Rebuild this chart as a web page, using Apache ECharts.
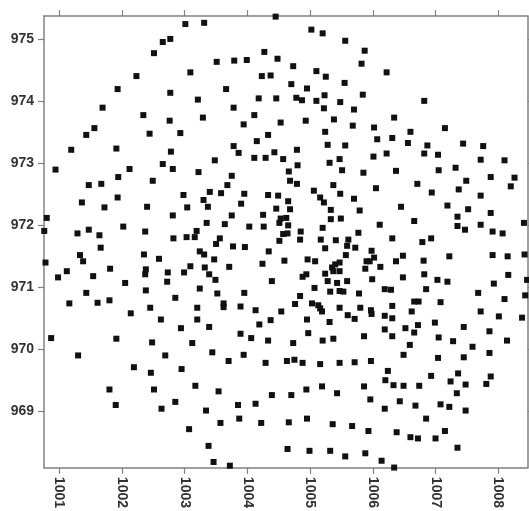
<!DOCTYPE html>
<html>
<head>
<meta charset="utf-8">
<script src="https://cdn.jsdelivr.net/npm/echarts@6/dist/echarts.min.js"></script>
<style>
html,body{margin:0;padding:0;background:#fff;}
#chart{width:529px;height:511px;}
</style>
</head>
<body>
<div id="chart"></div>
<script>
// tick labels
var xTicks = [1001, 1002, 1003, 1004, 1005, 1006, 1007, 1008];
var yTicks = [969, 970, 971, 972, 973, 974, 975];

// point x values (easting)
var xValues = [
1003.01,1002.77,1002.65,1002.51,1003.09,1002.23,1001.93,1002.77,1003.21,1001.69,
1002.34,1002.76,1001.56,1001.43,1002.44,1002.93,1001.19,1001.91,1002.78,1002.65,
1002.81,1000.94,1002.12,1003.22,1001.94,1002.49,1001.47,1001.67,1002.98,1001.36,
1001.93,1003.04,1001.72,1002.40,1000.80,1002.81,1000.76,1001.29,1001.47,1001.64,
1002.02,1002.37,1003.19,1002.82,1003.03,1003.16,
1003.31,1004.45,1005.02,1005.20,1005.56,1004.27,1004.48,1003.51,1003.79,1003.99,
1005.82,1004.73,1005.10,1004.23,1004.37,1005.25,1004.70,1004.95,1005.55,1003.66,
1004.18,1004.46,1004.78,1004.87,1005.10,1005.23,1005.22,1005.48,1005.70,1003.78,
1003.29,1004.11,1003.94,1004.53,1004.93,1005.38,1005.68,1005.24,1004.33,1004.15,
1003.78,1003.86,1005.28,1005.56,1004.79,1004.43,1004.11,1004.29,1004.57,1003.48,
1005.31,1005.47,1005.51,1004.80,1004.66,1003.75,1003.68,1004.68,1004.79,1005.37,
1003.40,1003.58,1003.95,1004.33,1004.49,1005.06,1005.16,1005.22,1005.48,1005.70,
1003.30,1003.37,1003.90,1004.65,1004.46,1004.68,1005.33,1005.79,1003.75,1004.25,
1003.35,1003.64,1004.03,1004.26,1004.53,1004.62,1004.51,1004.65,1005.33,1005.49,
1004.57,1004.64,1004.85,1005.20,1005.77,1003.56,1004.51,1004.84,1005.17,1005.41,
1005.61,
1005.87,1006.22,1005.84,1006.82,1006.34,1006.02,1007.15,1006.60,1006.07,1006.31,
1006.56,1006.87,1007.44,1007.76,1006.01,1006.22,1006.82,1007.04,1007.72,1008.10,
1005.85,1006.37,1007.05,1007.32,1007.49,1007.88,1008.26,1008.20,1006.05,1006.71,
1006.94,1007.37,1007.72,1006.45,1007.19,1007.52,1007.88,1007.35,1006.66,1006.11,
1007.35,1007.47,1007.72,1007.91,1008.07,1008.41,1006.31,1006.79,1006.93,
1001.66,1001.33,1001.38,1000.78,1002.35,1002.59,1003.24,1000.98,1001.12,1001.54,
1001.81,1002.38,1002.37,1002.73,1002.99,1003.09,1002.05,1002.72,1001.43,1002.38,
1003.24,1001.16,1001.61,1001.80,1002.85,1002.14,1002.45,1003.20,1002.62,1003.20,
1002.94,1000.87,1001.91,1002.48,1003.12,1001.30,1002.69,1002.19,1002.46,1002.95,
1001.80,1002.51,1003.17,1001.90,1002.63,1002.85,1003.07,
1003.50,1003.77,1003.96,1005.59,1005.72,1005.24,1003.31,1003.47,1003.71,1004.24,
1004.34,1004.59,1004.96,1005.08,1005.57,1003.32,1003.39,1003.49,1003.52,1003.95,
1004.39,1004.88,1004.94,1005.07,1005.28,1005.24,1005.35,1005.40,1005.47,1005.37,
1005.47,1005.43,1005.59,1005.32,1005.47,1005.53,1005.78,1003.62,1003.62,1003.89,
1004.13,1004.54,1004.76,1004.84,1005.03,1005.13,1005.16,1005.19,1005.47,1005.60,
1005.71,1005.80,1004.95,1005.31,1004.37,1004.19,1003.39,1003.89,1004.06,1004.33,
1004.73,1004.97,1005.20,1005.37,1003.44,1003.94,1003.70,1004.29,1004.63,1004.75,
1004.88,1005.16,1005.47,1005.71,1003.54,1004.39,1004.70,1004.94,1005.19,1005.43,
1003.34,1003.85,1004.13,1003.57,1003.87,1004.22,1004.66,1004.95,1005.36,1005.67,
1003.38,1004.64,1004.99,1005.32,1005.56,1003.46,1003.72,
1005.98,1006.02,1005.90,1005.95,1005.88,1006.12,1006.37,1006.48,1006.81,1007.22,
1007.91,1008.15,1008.42,1005.99,1006.48,1006.82,1007.03,1007.19,1008.16,1008.46,
1006.19,1006.29,1006.85,1007.68,1007.93,1008.10,1008.43,1005.97,1005.98,1006.19,
1006.31,1006.31,1006.62,1006.66,1006.73,1007.08,1007.72,1008.01,1008.38,1005.86,
1006.19,1006.31,1006.52,1006.66,1006.72,1006.99,1007.05,1007.28,1007.45,1007.86,
1008.14,1005.97,1006.59,1006.49,1007.04,1007.45,1007.59,1007.86,1006.24,1006.20,
1006.33,1006.49,1006.74,1006.93,1007.24,1007.36,1007.48,1007.34,1007.81,1007.88,
1005.86,1005.96,1006.19,1006.43,1006.68,1007.08,1007.22,1007.48,1006.85,1005.93,
1006.38,1006.60,1006.72,1007.00,1007.15,1007.35,1005.88,1006.14,1006.34
];

// point y values (northing)
var yValues = [
975.25,975.01,974.96,974.78,974.47,974.41,974.20,974.14,974.03,973.90,
973.78,973.69,973.57,973.46,973.48,973.49,973.22,973.24,973.19,972.99,
972.91,972.90,972.91,972.86,972.78,972.72,972.65,972.67,972.49,972.37,
972.45,972.29,972.29,972.30,972.12,972.16,971.91,971.87,971.93,971.84,
971.98,971.90,971.91,971.79,971.81,971.81,
975.27,975.37,975.16,975.10,974.98,974.80,974.69,974.64,974.66,974.67,
974.61,974.57,974.49,974.41,974.42,974.40,974.28,974.21,974.30,974.20,
974.05,974.05,974.06,974.02,974.01,974.10,973.89,973.99,973.87,973.90,
973.74,973.78,973.63,973.66,973.69,973.71,973.61,973.51,973.46,973.36,
973.28,973.17,973.30,973.29,973.22,973.18,973.09,973.09,973.07,973.05,
973.01,973.07,972.89,972.97,972.87,972.80,972.65,972.72,972.67,972.65,
972.54,972.52,972.51,972.49,972.48,972.56,972.45,972.37,972.51,972.43,
972.41,972.30,972.35,972.39,972.27,972.26,972.25,972.24,972.16,972.17,
972.04,972.02,971.98,971.98,972.11,972.12,972.04,972.00,972.10,972.11,
971.86,971.87,971.90,971.96,971.88,971.79,971.75,971.77,971.77,971.76,
971.77,
974.82,974.47,974.11,974.01,973.74,973.58,973.57,973.51,973.39,973.41,
973.33,973.29,973.32,973.28,973.11,973.16,973.16,973.14,973.06,973.05,
972.85,972.88,972.89,972.93,972.72,972.78,972.77,972.63,972.60,972.67,
972.53,972.58,972.48,972.30,972.32,972.26,972.20,972.14,972.07,972.01,
971.99,971.93,972.01,971.90,971.87,972.04,971.79,971.73,971.79,
971.64,971.52,971.42,971.40,971.53,971.46,971.58,971.16,971.26,971.18,
971.30,971.29,971.21,971.24,971.24,971.34,971.07,971.09,970.91,970.95,
970.98,970.74,970.75,970.79,970.83,970.58,970.67,970.67,970.48,970.48,
970.34,970.18,970.17,970.11,970.10,969.90,969.90,969.71,969.62,969.68,
969.35,969.35,969.41,969.10,969.04,969.15,968.71,
971.70,971.66,971.65,971.67,971.64,971.63,971.53,971.45,971.33,971.38,
971.58,971.43,971.45,971.42,971.52,971.32,971.21,971.12,970.90,970.91,
971.10,971.17,971.21,970.99,971.10,971.22,971.32,971.37,971.40,971.26,
971.26,971.07,971.10,970.93,970.94,970.93,970.90,970.74,970.68,970.69,
970.63,970.61,970.73,970.86,970.74,970.71,970.66,970.61,970.67,970.55,
970.49,970.67,970.48,970.44,970.47,970.40,970.36,970.25,970.18,970.14,
970.10,970.26,970.14,970.17,969.95,969.91,969.81,969.78,969.81,969.83,
969.78,969.76,969.78,969.79,969.32,969.26,969.26,969.35,969.40,969.29,
969.01,969.10,969.12,968.81,968.88,968.81,968.82,968.88,968.79,968.76,
968.44,968.39,968.36,968.36,968.27,968.18,968.12,
971.59,971.48,971.42,971.42,971.30,971.33,971.42,971.51,971.43,971.50,
971.52,971.50,971.53,971.13,971.16,971.21,971.12,971.09,971.20,971.12,
970.97,970.96,970.97,970.91,971.06,970.81,970.87,970.63,970.57,970.54,
970.70,970.50,970.61,970.77,970.77,970.76,970.61,970.53,970.51,970.21,
970.32,970.21,970.34,970.27,970.39,970.43,970.19,970.13,970.36,970.29,
970.14,969.81,970.07,969.91,969.86,969.87,970.04,969.94,969.65,969.50,
969.42,969.41,969.41,969.57,969.48,969.61,969.43,969.29,969.44,969.56,
969.40,969.19,969.04,969.16,969.09,969.11,969.07,969.01,968.88,968.68,
968.66,968.58,968.56,968.56,968.68,968.41,968.32,968.20,968.09
];

var points = [];
var n = Math.min(xValues.length, yValues.length);
for (var i = 0; i < n; i++) points.push([xValues[i], yValues[i]]);

var X_MIN = 1000.756, X_MAX = 1008.47;
var Y_MIN = 968.085, Y_MAX = 975.38;

var axisColor = '#808080';
var labelStyle = {
  color: '#333',
  fontSize: 14,
  fontWeight: 'bold',
  fontFamily: '"Liberation Sans", Arial, sans-serif'
};

var chart = echarts.init(document.getElementById('chart'), null, {renderer: 'canvas'});
chart.setOption({
  animation: false,
  backgroundColor: '#fff',
  grid: {left: 44, right: 1.3, top: 16, bottom: 42, containLabel: false},
  xAxis: [{
    type: 'value', position: 'bottom', min: X_MIN, max: X_MAX,
    splitLine: {show: false},
    axisLine: {show: true, onZero: false, lineStyle: {color: axisColor, width: 1.5}},
    axisTick: {show: true, inside: false, length: 6, customValues: xTicks, lineStyle: {color: axisColor, width: 1.2}},
    axisLabel: Object.assign({show: true, rotate: -90, margin: 9, customValues: xTicks,
      formatter: function (v) { return String(Math.round(v)); }}, labelStyle)
  }, {
    type: 'value', position: 'top', min: X_MIN, max: X_MAX,
    splitLine: {show: false},
    axisLine: {show: true, onZero: false, lineStyle: {color: axisColor, width: 1.5}},
    axisTick: {show: true, inside: false, length: 6, customValues: xTicks, lineStyle: {color: axisColor, width: 1.2}},
    axisLabel: {show: false}
  }],
  yAxis: [{
    type: 'value', position: 'left', min: Y_MIN, max: Y_MAX,
    splitLine: {show: false},
    axisLine: {show: true, onZero: false, lineStyle: {color: axisColor, width: 1.5}},
    axisTick: {show: true, inside: false, length: 6, customValues: yTicks, lineStyle: {color: axisColor, width: 1.2}},
    axisLabel: Object.assign({show: true, margin: 10, customValues: yTicks,
      formatter: function (v) { return String(Math.round(v)); }}, labelStyle)
  }, {
    type: 'value', position: 'right', min: Y_MIN, max: Y_MAX,
    splitLine: {show: false},
    axisLine: {show: true, onZero: false, lineStyle: {color: axisColor, width: 1.5}},
    axisTick: {show: true, inside: false, length: 6, customValues: yTicks, lineStyle: {color: axisColor, width: 1.2}},
    axisLabel: {show: false}
  }],
  series: [{
    type: 'scatter',
    xAxisIndex: 0, yAxisIndex: 0,
    symbol: 'rect',
    symbolSize: 6,
    clip: false,
    itemStyle: {color: '#111', opacity: 1},
    data: points
  }]
});
</script>
</body>
</html>
